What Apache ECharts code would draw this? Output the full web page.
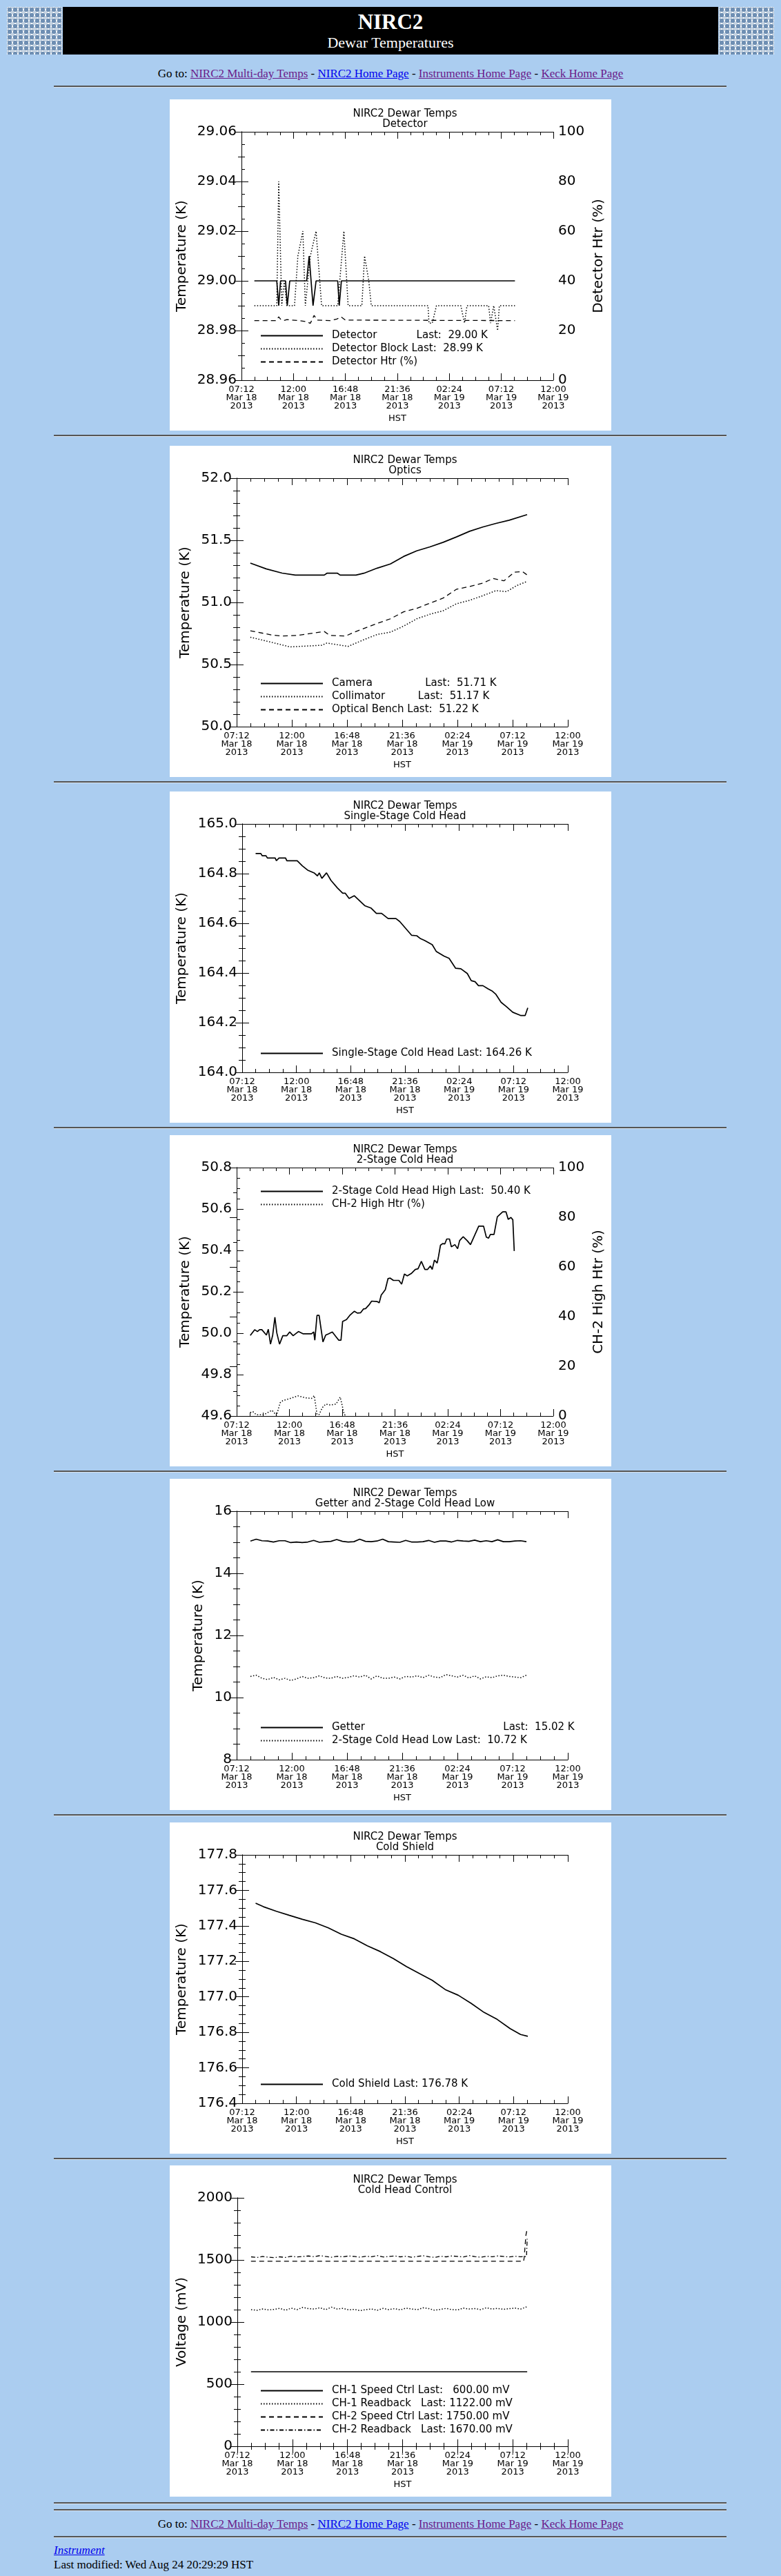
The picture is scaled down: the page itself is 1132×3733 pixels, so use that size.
<!DOCTYPE html>
<html>
<head>
<meta charset="utf-8">
<script src="https://cdn.jsdelivr.net/npm/echarts@6/dist/echarts.min.js"></script>
<style>
  body { margin:0; background:#abcdf0; width:1132px; height:3733px; position:relative; font-family:"Liberation Serif","Times New Roman",serif; overflow:hidden; }
  .abs { position:absolute; }
  .logo { top:10px; width:80px; height:69px; background:#fff;
    background-image: radial-gradient(circle, #6f8fb3 3px, transparent 3.5px), radial-gradient(circle, #c5d3e2 3px, transparent 3.5px);
    background-size:8px 8px, 8px 8px; background-position:0 0, 4px 4px; }
  .banner { left:91px; top:10px; width:950px; height:69px; background:#000; color:#fff; text-align:center; }
  .banner .t1 { font-size:31px; font-weight:bold; line-height:34px; padding-top:5px; }
  .banner .t2 { font-size:22px; line-height:26px; }
  .goto { left:0; width:1132px; text-align:center; font-size:17px; }
  a { color:#6a1a8a; } a.b { color:#0000ee; }
  .hr { left:78px; width:975px; height:0; border-top:2px solid #555; border-bottom:1px solid #d8e4f0; }
  .panel { left:246px; width:640px; height:480px; background:#fff; }
</style>
</head>
<body>
<div class="abs logo" style="left:10px"></div>
<div class="abs banner"><div class="t1">NIRC2</div><div class="t2">Dewar Temperatures</div></div>
<div class="abs logo" style="left:1042px"></div>
<div class="abs goto" style="top:97px">Go to: <a href="#">NIRC2 Multi-day Temps</a> - <a class="b" href="#">NIRC2 Home Page</a> - <a href="#">Instruments Home Page</a> - <a href="#">Keck Home Page</a></div>
<div class="abs hr" style="top:124px"></div>
<div id="panels"></div>
<div class="abs hr" style="top:3626px"></div>
<div class="abs hr" style="top:3636px"></div>
<div class="abs goto" style="top:3648px">Go to: <a href="#">NIRC2 Multi-day Temps</a> - <a class="b" href="#">NIRC2 Home Page</a> - <a href="#">Instruments Home Page</a> - <a href="#">Keck Home Page</a></div>
<div class="abs hr" style="top:3675px"></div>
<div class="abs" style="left:78px;top:3686px;font-size:17px;font-style:italic"><a class="b" href="#">Instrument</a></div>
<div class="abs" style="left:78px;top:3707px;font-size:17px">Last modified: Wed Aug 24 20:29:29 HST</div>
<script>
// x in hours after 07:12 Mar 18 2013 (HST)
const xTickLabels = ['07:12\nMar 18\n2013','12:00\nMar 18\n2013','16:48\nMar 18\n2013','21:36\nMar 18\n2013','02:24\nMar 19\n2013','07:12\nMar 19\n2013','12:00\nMar 19\n2013'];

// 1. Detector
const detector = [[1.19,29.00],[3.26,29.00],[3.44,28.99],[3.61,29.00],[4.07,29.00],[4.23,28.99],[4.46,29.00],[6.02,29.00],[6.25,29.01],[6.61,28.99],[6.89,29.00],[8.89,29.00],[9.03,28.99],[9.23,29.00],[25.26,29.00]];
const detectorBlock = [[1.19,28.99],[3.26,28.99],[3.44,29.04],[3.72,28.99],[3.95,29.00],[4.19,28.99],[4.9,28.99],[5.21,29.01],[5.67,29.02],[5.90,28.99],[6.36,29.01],[6.89,29.02],[7.40,28.99],[8.89,28.99],[9.46,29.02],[9.85,28.99],[11.12,28.99],[11.37,29.01],[11.76,29.00],[11.99,28.99],[17.23,28.99],[17.32,28.983],[17.62,28.983],[18.01,28.99],[20.26,28.99],[20.60,28.983],[20.83,28.99],[22.83,28.99],[23.01,28.983],[23.3,28.99],[23.66,28.98],[23.82,28.99],[25.26,28.99]];
const detectorHtr = [[1.19,24],[3.2,24],[3.44,25.5],[3.6,24.6],[3.9,24],[4.2,24.4],[5.3,24],[6.0,23.6],[6.36,22.9],[6.71,26.1],[7.0,24.2],[8.2,24],[8.8,24.6],[9.2,25.5],[9.6,24.2],[25.26,24]];
const detectorLegend = ['Detector            Last:  29.00 K','Detector Block Last:  28.99 K','Detector Htr (%)'];

// 2. Optics
const camera = [[1.19,51.317],[2.57,51.27],[3.95,51.236],[5.10,51.22],[7.62,51.22],[7.85,51.235],[8.77,51.235],[9.00,51.22],[10.38,51.22],[11.07,51.235],[12.22,51.276],[13.37,51.31],[14.52,51.37],[15.66,51.415],[16.81,51.447],[17.96,51.484],[19.11,51.527],[20.26,51.573],[21.40,51.607],[22.55,51.636],[23.70,51.662],[25.26,51.707]];
const collimator = [[1.19,50.72],[3.03,50.679],[4.64,50.642],[7.39,50.655],[7.85,50.673],[9.69,50.646],[11.07,50.70],[12.22,50.742],[13.37,50.761],[14.52,50.809],[15.66,50.868],[16.81,50.905],[17.96,50.933],[19.11,50.989],[20.26,51.017],[21.40,51.054],[22.55,51.095],[23.47,51.087],[24.39,51.137],[25.26,51.169]];
const opticalBench = [[1.19,50.772],[3.03,50.738],[3.95,50.729],[5.33,50.735],[7.62,50.766],[8.08,50.735],[9.46,50.729],[10.38,50.766],[12.22,50.831],[13.37,50.868],[14.52,50.924],[15.66,50.952],[16.81,50.994],[17.96,51.035],[19.11,51.106],[20.26,51.128],[21.40,51.156],[22.32,51.193],[23.24,51.174],[24.16,51.243],[24.85,51.249],[25.26,51.221]];
const opticsLegend = ['Camera                Last:  51.71 K','Collimator          Last:  51.17 K','Optical Bench Last:  51.22 K'];

// 3. Single-stage cold head
const singleStage = [[1.19,164.881],[1.65,164.881],[1.77,164.872],[2.11,164.872],[2.23,164.863],[2.92,164.863],[3.03,164.852],[3.26,164.863],[3.84,164.863],[3.95,164.852],[4.87,164.852],[5.33,164.831],[5.79,164.814],[6.36,164.803],[6.66,164.791],[6.82,164.803],[7.05,164.781],[7.46,164.803],[7.85,164.773],[8.43,164.742],[8.89,164.721],[9.12,164.721],[9.46,164.70],[9.92,164.711],[10.84,164.671],[11.41,164.661],[11.87,164.64],[12.33,164.64],[12.91,164.619],[13.60,164.619],[13.94,164.607],[14.98,164.552],[15.44,164.55],[15.78,164.538],[16.12,164.531],[16.81,164.514],[17.16,164.487],[17.85,164.468],[18.30,164.459],[18.88,164.419],[19.34,164.417],[19.91,164.398],[20.26,164.369],[20.60,164.365],[20.90,164.349],[21.29,164.349],[21.75,164.336],[22.09,164.328],[22.44,164.314],[22.90,164.282],[23.36,164.265],[23.93,164.242],[24.62,164.229],[25.03,164.229],[25.26,164.26]];
const singleLegend = ['Single-Stage Cold Head Last: 164.26 K'];

// 4. 2-stage cold head high
const twoStageHigh = [[1.24,49.989],[1.64,50.017],[1.89,50.008],[2.09,50.017],[2.29,50.017],[2.71,49.991],[2.88,50.019],[3.08,49.947],[3.28,49.991],[3.48,50.077],[3.65,50.002],[3.90,49.947],[4.20,49.988],[4.57,49.988],[4.82,50.006],[5.14,49.988],[5.62,50.008],[6.06,49.997],[6.81,49.997],[7.01,50.006],[7.11,49.966],[7.31,50.086],[7.50,50.086],[7.85,49.958],[8.10,49.991],[8.35,49.997],[8.70,50.006],[9.29,49.966],[9.49,49.966],[9.64,50.057],[9.99,50.066],[10.29,50.086],[10.71,50.106],[10.98,50.097],[11.28,50.099],[11.53,50.117],[11.73,50.119],[12.03,50.136],[12.28,50.155],[12.77,50.153],[12.97,50.147],[13.15,50.184],[13.52,50.210],[13.77,50.264],[13.97,50.266],[14.26,50.255],[14.76,50.255],[15.01,50.237],[15.26,50.286],[15.51,50.277],[15.88,50.288],[16.25,50.308],[16.50,50.311],[16.80,50.347],[17.12,50.308],[17.37,50.308],[17.62,50.325],[17.79,50.308],[17.99,50.353],[18.24,50.339],[18.36,50.370],[18.54,50.425],[18.74,50.433],[18.93,50.431],[19.11,50.455],[19.36,50.455],[19.53,50.417],[19.85,50.428],[20.10,50.408],[20.28,50.447],[20.60,50.466],[20.97,50.447],[21.27,50.428],[22.02,50.517],[22.46,50.517],[22.71,50.464],[22.91,50.459],[23.08,50.477],[23.41,50.477],[23.71,50.562],[24.20,50.586],[24.50,50.586],[24.70,50.550],[24.95,50.559],[25.12,50.548],[25.25,50.397]];
const ch2HighHtr = [[1.24,1.4],[1.47,1.8],[1.79,0.5],[2.46,0.5],[3.21,2.3],[3.45,1.1],[3.63,0.2],[3.95,5.3],[4.20,6.2],[4.82,7.0],[5.57,8.1],[6.31,7.3],[6.81,7.1],[7.06,8.2],[7.31,0.6],[7.50,0.6],[7.80,3.4],[8.10,4.8],[8.55,4.4],[9.04,4.8],[9.42,7.6],[9.79,0.6],[9.99,0]];
const twoStageLegend = ['2-Stage Cold Head High Last:  50.40 K','CH-2 High Htr (%)'];

// 5. Getter and 2-stage low (regular 30 min samples)
const t5 = [1.2,1.7,2.2,2.7,3.2,3.7,4.2,4.7,5.2,5.7,6.2,6.7,7.2,7.7,8.2,8.7,9.2,9.7,10.2,10.7,11.2,11.7,12.2,12.7,13.2,13.7,14.2,14.7,15.2,15.7,16.2,16.7,17.2,17.7,18.2,18.7,19.2,19.7,20.2,20.7,21.2,21.7,22.2,22.7,23.2,23.7,24.2,24.7,25.2];
const getter = [15.04,15.10,15.05,15.04,15.01,15.05,15.05,14.99,15.01,14.99,15.01,15.06,15.00,15.02,15.03,15.09,15.03,15.01,15.02,15.10,15.03,15.02,15.04,15.10,15.02,15.01,15.00,15.06,15.01,15.01,15.02,15.06,15.00,15.04,15.04,15.01,15.06,15.04,15.03,15.07,15.02,15.05,15.02,15.08,15.02,15.02,15.04,15.05,15.02];
const twoStageLow = [10.68,10.72,10.62,10.58,10.65,10.57,10.62,10.55,10.60,10.68,10.62,10.64,10.70,10.63,10.62,10.68,10.62,10.65,10.70,10.66,10.72,10.60,10.70,10.62,10.62,10.66,10.60,10.68,10.66,10.70,10.64,10.72,10.66,10.64,10.74,10.70,10.66,10.72,10.63,10.70,10.60,10.67,10.64,10.70,10.72,10.68,10.66,10.64,10.72];
const getterLegend = ['Getter                                          Last:  15.02 K','2-Stage Cold Head Low Last:  10.72 K'];

// 6. Cold shield
const coldShield = [[1.19,177.528],[1.88,177.508],[3.03,177.482],[4.18,177.459],[5.33,177.437],[6.48,177.417],[7.62,177.389],[8.77,177.353],[9.92,177.327],[11.07,177.288],[12.22,177.255],[13.37,177.216],[14.52,177.171],[15.66,177.132],[16.81,177.093],[17.96,177.041],[19.11,177.009],[20.26,176.963],[21.40,176.912],[22.55,176.873],[23.70,176.821],[24.62,176.788],[25.26,176.778]];
const shieldLegend = ['Cold Shield Last: 176.78 K'];

// 7. Cold head control
const ch1Speed = [[1.19,600],[25.26,600]];
const ch1Readback = [1100,1095,1105,1098,1102,1110,1095,1112,1100,1118,1108,1105,1115,1100,1120,1105,1110,1098,1102,1092,1100,1105,1095,1110,1100,1108,1098,1112,1105,1100,1115,1108,1095,1102,1110,1100,1098,1112,1105,1108,1100,1115,1105,1110,1102,1108,1112,1105,1122];
const ch2Speed = [[1.19,1490],[24.95,1490],[25.0,1520],[25.15,1700],[25.26,1750]];
const ch2Readback = [1525,1520,1528,1522,1518,1525,1520,1530,1524,1528,1532,1526,1535,1528,1522,1530,1525,1532,1528,1522,1530,1526,1535,1524,1528,1532,1525,1530,1522,1528,1534,1526,1520,1530,1525,1532,1528,1524,1535,1527,1522,1530,1526,1532,1528,1524,1530,1526,1528];
const ch2ReadbackEnd = [[25.26,1670]];
const controlLegend = ['CH-1 Speed Ctrl Last:   600.00 mV','CH-1 Readback   Last: 1122.00 mV','CH-2 Speed Ctrl Last: 1750.00 mV','CH-2 Readback   Last: 1670.00 mV'];

const FONT = '"DejaVu Sans", sans-serif';
const SOLID = { type:'solid', width:1.7 };
const DOT = { type:[1.5,2.5], width:1.5 };
const DASH = { type:[7,5], width:1.3 };
const DASHDOT = { type:[6,3,1.5,3], width:1.3 };
const pair = (t, v) => t.map((x, i) => [x, v[i]]);

const panelTops = [144, 646, 1147, 1645, 2143, 2641, 3138];

function yAxis(o, right) {
  return {
    type:'value', min:o.min, max:o.max, interval:o.interval, position: right ? 'right' : 'left',
    name:o.name || '', nameLocation:'middle', nameGap:o.gap || 60, nameRotate:90,
    nameTextStyle:{ fontFamily:FONT, fontSize:20, color:'#000' },
    axisLine:{ show:true, lineStyle:{ color:'#000', width:1 } },
    axisTick:{ show:true, inside:true, length:10, lineStyle:{ color:'#000' } },
    minorTick:{ show:true, splitNumber:o.minor, length:5, lineStyle:{ color:'#000' } },
    splitLine:{ show:false },
    axisLabel:{ show:o.labels !== false, margin:7, fontFamily:FONT, fontSize:20, color:'#000', formatter:o.fmt }
  };
}
function xAxis(top) {
  return {
    type:'value', min:0, max:28.8, interval:4.8, position: top ? 'top' : 'bottom',
    name: top ? '' : 'HST', nameLocation:'middle', nameGap:46,
    nameTextStyle:{ fontFamily:FONT, fontSize:13, color:'#000' },
    axisLine:{ show:true, lineStyle:{ color:'#000', width:1 } },
    axisTick:{ show:true, inside:true, length:10, lineStyle:{ color:'#000' } },
    minorTick:{ show:true, splitNumber:4, length:5, lineStyle:{ color:'#000' } },
    splitLine:{ show:false },
    axisLabel:{ show:!top, margin:8, fontFamily:FONT, fontSize:13, lineHeight:12, color:'#000',
      formatter:v => xTickLabels[Math.round(v / 4.8)] }
  };
}
function line(name, data, style, yIdx) {
  return { name, type:'line', data, yAxisIndex:yIdx || 0, symbol:'none', showSymbol:false, animation:false,
    lineStyle:Object.assign({ color:'#000' }, style), itemStyle:{ color:'#000' } };
}

const charts = [
  { sub:'Detector', y:{ min:28.96, max:29.06, interval:0.02, minor:4, name:'Temperature (K)', gap:76, fmt:v => v.toFixed(2) },
    y2:{ min:0, max:100, interval:20, minor:2, name:'Detector Htr (%)', gap:50 }, legTop:330,
    series:[line(detectorLegend[0], detector, SOLID), line(detectorLegend[1], detectorBlock, DOT), line(detectorLegend[2], detectorHtr, DASH, 1)] },
  { sub:'Optics', y:{ min:50.0, max:52.0, interval:0.5, minor:5, name:'Temperature (K)', gap:64, fmt:v => v.toFixed(1) }, legTop:332,
    series:[line(opticsLegend[0], camera, SOLID), line(opticsLegend[1], collimator, DOT), line(opticsLegend[2], opticalBench, DASH)] },
  { sub:'Single-Stage Cold Head', y:{ min:164.0, max:165.0, interval:0.2, minor:4, name:'Temperature (K)', gap:77, fmt:v => v.toFixed(1) }, legTop:367,
    series:[line(singleLegend[0], singleStage, SOLID)] },
  { sub:'2-Stage Cold Head', y:{ min:49.6, max:50.8, interval:0.2, minor:4, name:'Temperature (K)', gap:64, fmt:v => v.toFixed(1) },
    y2:{ min:0, max:100, interval:20, minor:2, name:'CH-2 High Htr (%)', gap:46 }, legTop:69,
    series:[line(twoStageLegend[0], twoStageHigh, SOLID), line(twoStageLegend[1], ch2HighHtr, DOT, 1)] },
  { sub:'Getter and 2-Stage Cold Head Low', y:{ min:8, max:16, interval:2, minor:4, name:'Temperature (K)', gap:45, fmt:v => String(v) }, legTop:348,
    series:[line(getterLegend[0], pair(t5, getter), SOLID), line(getterLegend[1], pair(t5, twoStageLow), DOT)] },
  { sub:'Cold Shield', y:{ min:176.4, max:177.8, interval:0.2, minor:4, name:'Temperature (K)', gap:77, fmt:v => v.toFixed(1) }, legTop:367,
    series:[line(shieldLegend[0], coldShield, SOLID)] },
  { sub:'Cold Head Control', y:{ min:0, max:2000, interval:500, minor:5, name:'Voltage (mV)', gap:70, fmt:v => String(v) }, legTop:314,
    series:[line(controlLegend[0], ch1Speed, SOLID), line(controlLegend[1], pair(t5, ch1Readback), DOT),
      line(controlLegend[2], ch2Speed, DASH), line(controlLegend[3], pair(t5, ch2Readback).concat(ch2ReadbackEnd), DASHDOT)] }
];

const holder = document.getElementById('panels');
charts.forEach((c, i) => {
  const top = panelTops[i];
  const div = document.createElement('div');
  div.className = 'abs panel';
  div.style.top = top + 'px';
  holder.appendChild(div);
  if (i < charts.length - 1) {
    const hr = document.createElement('div');
    hr.className = 'abs hr';
    hr.style.top = (top + 486) + 'px';
    holder.appendChild(hr);
  }
  const chart = echarts.init(div, null, { renderer:'canvas' });
  const right = c.y2 ? yAxis(c.y2, true) : yAxis(Object.assign({}, c.y, { name:'', labels:false }), true);
  chart.setOption({
    animation:false,
    backgroundColor:'#fff',
    title:{ text:'NIRC2 Dewar Temps\n' + c.sub, left:336, top:9, textAlign:'center',
      textStyle:{ fontFamily:FONT, fontSize:15, fontWeight:'normal', lineHeight:15, color:'#000' } },
    grid:{ left:97, right:63, top:47, bottom:73, containLabel:false },
    legend:{ orient:'vertical', left:126, top:c.legTop, itemWidth:90, itemHeight:14, itemGap:4,
      selectedMode:false,
      itemStyle:{ color:'rgba(0,0,0,0)', borderColor:'rgba(0,0,0,0)', borderWidth:0 },
      textStyle:{ fontFamily:FONT, fontSize:15, color:'#000', padding:[0,0,0,8] } },
    xAxis:[xAxis(false), xAxis(true)],
    yAxis:[yAxis(c.y, false), right],
    series:c.series
  });
});
</script>
</body>
</html>
